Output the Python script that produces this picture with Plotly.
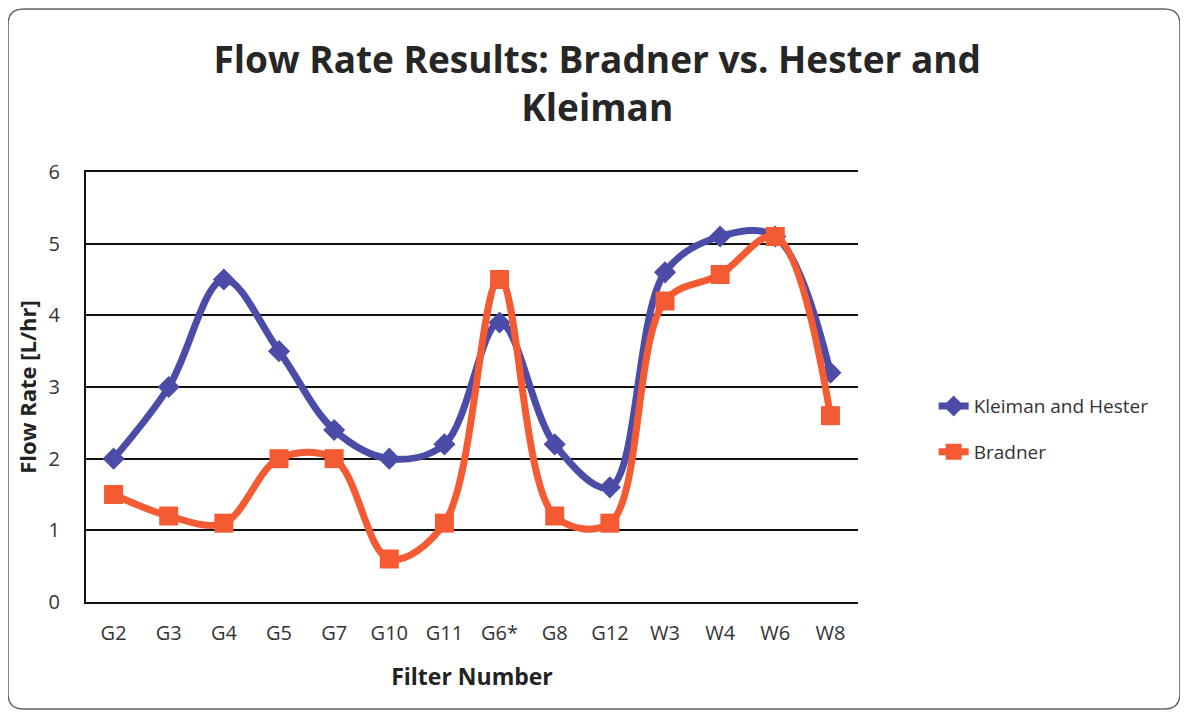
import plotly.graph_objects as go

filters = ['G2', 'G3', 'G4', 'G5', 'G7', 'G10', 'G11', 'G6*', 'G8', 'G12', 'W3', 'W4', 'W6', 'W8']
kleiman_hester = [2.0, 3.0, 4.5, 3.5, 2.4, 2.0, 2.2, 3.9, 2.2, 1.6, 4.6, 5.1, 5.1, 3.2]
bradner = [1.5, 1.2, 1.1, 2.0, 2.0, 0.6, 1.1, 4.5, 1.2, 1.1, 4.2, 4.57, 5.1, 2.6]

font_family = 'Open Sans, Lato, sans-serif'

fig = go.Figure()

fig.add_trace(go.Scatter(
    x=filters, y=kleiman_hester,
    name='Kleiman and Hester',
    legendgroup='kh',
    mode='lines+markers',
    line=dict(color='#4B4BA8', width=7, shape='spline', smoothing=1),
    marker=dict(symbol='diamond', size=17, color='#4B4BA8')
))

fig.add_trace(go.Scatter(
    x=filters, y=bradner,
    name='Bradner',
    legendgroup='br',
    mode='lines+markers',
    line=dict(color='#F55B32', width=7, shape='spline', smoothing=1),
    marker=dict(symbol='square', size=19, color='#F55B32')
))

# rounded outer frame, in paper coordinates
x0, x1, y0, y1 = -0.101, 1.417, -0.249, 1.379
rx, ry = 0.02, 0.036
frame = (f'M {x0+rx},{y0} L {x1-rx},{y0} Q {x1},{y0} {x1},{y0+ry} '
         f'L {x1},{y1-ry} Q {x1},{y1} {x1-rx},{y1} '
         f'L {x0+rx},{y1} Q {x0},{y1} {x0},{y1-ry} '
         f'L {x0},{y0+ry} Q {x0},{y0} {x0+rx},{y0} Z')

fig.update_layout(
    width=1188, height=715,
    paper_bgcolor='white',
    plot_bgcolor='white',
    margin=dict(l=78, r=338, t=164, b=121),
    title=dict(
        text='<b>Flow Rate Results: Bradner vs. Hester and<br>Kleiman</b>',
        x=0.496, xanchor='center',
        y=0.909, yanchor='middle',
        font=dict(family=font_family, size=37, color='#262626')
    ),
    xaxis=dict(
        type='category',
        range=[-0.5, 13.5],
        showgrid=False,
        showline=True,
        mirror=True,
        linecolor='#111',
        linewidth=2,
        ticks='',
        ticklabelstandoff=12,
        tickfont=dict(family=font_family, size=20, color='#333'),
        title=dict(text='<b>Filter Number</b>', font=dict(family=font_family, size=23, color='#222'), standoff=24)
    ),
    yaxis=dict(
        range=[0, 6],
        dtick=1,
        showgrid=True,
        gridcolor='#111',
        gridwidth=2,
        showline=True,
        linecolor='#111',
        linewidth=2,
        zeroline=False,
        ticks='',
        ticklabelstandoff=20,
        tickfont=dict(family=font_family, size=20, color='#333'),
        title=dict(text='<b>Flow Rate [L/hr]</b>', font=dict(family=font_family, size=22, color='#222'), standoff=6)
    ),
    legend=dict(
        x=1.098, y=0.402, xanchor='left', yanchor='middle',
        font=dict(family=font_family, size=19, color='#333'),
        tracegroupgap=18
    ),
    shapes=[dict(
        type='path', xref='paper', yref='paper',
        path=frame,
        line=dict(color='#666', width=1.5)
    )]
)

fig.write_html('out.html')
